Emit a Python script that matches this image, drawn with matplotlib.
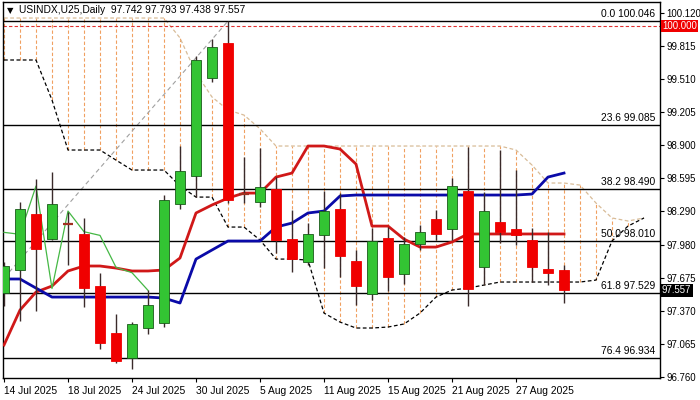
import numpy as np
import matplotlib
matplotlib.use("Agg")
import matplotlib.pyplot as plt
from matplotlib import transforms

plt.rcParams["font.family"] = ["Liberation Sans", "DejaVu Sans"]

# ── data (USINDX U25 daily, bar 0 = 14 Jul 2025) ─────────────────────────────
opens  = [97.532, 97.745, 98.262, 98.034, 98.180, 98.077, 97.597, 97.165, 96.929, 97.206,
          97.259, 98.352, 98.614, 99.516, 99.846, 98.450, 98.370, 98.491, 98.029, 97.821,
          98.065, 98.306, 97.828, 97.520, 98.038, 97.705, 97.982, 98.213, 98.121, 98.475,
          97.770, 98.191, 98.124, 98.022, 97.757, 97.742]
highs  = [97.819, 98.376, 98.583, 98.650, 98.284, 98.223, 97.714, 97.338, 97.267, 97.560,
          98.438, 98.891, 99.723, 99.877, 100.046, 98.790, 98.872, 98.607, 98.299, 98.182,
          98.478, 98.454, 97.930, 98.133, 98.145, 98.050, 98.161, 98.299, 98.600, 98.882,
          98.466, 98.854, 98.669, 98.133, 98.100, 97.793]
lows   = [97.412, 97.276, 97.369, 98.020, 97.791, 97.406, 97.012, 96.882, 96.827, 97.153,
          97.221, 98.306, 98.422, 99.482, 98.364, 98.360, 98.330, 97.899, 97.729, 97.791,
          97.763, 97.683, 97.421, 97.467, 97.555, 97.615, 97.930, 98.022, 98.022, 97.412,
          97.615, 97.994, 97.976, 97.637, 97.606, 97.438]
closes = [97.782, 98.306, 97.942, 98.355, 98.172, 97.576, 97.073, 96.907, 97.246, 97.421,
          98.392, 98.657, 99.686, 99.803, 98.392, 98.445, 98.515, 98.022, 97.851, 98.075,
          98.290, 97.877, 97.597, 98.017, 97.683, 97.982, 98.093, 98.075, 98.521, 97.574,
          98.290, 98.099, 98.065, 97.770, 97.720, 97.557]

tenkan = [97.052, 97.375, 97.541, 97.597, 97.736, 97.782, 97.782, 97.763, 97.736, 97.736,
          97.745, 97.856, 98.272, 98.346, 98.410, 98.456, 98.456, 98.604, 98.641, 98.891,
          98.891, 98.863, 98.724, 98.151, 98.151, 98.031, 97.957, 97.957, 98.004, 98.078,
          98.078, 98.078, 98.078, 98.078, 98.078, 98.078]
kijun  = [97.662, 97.662, 97.578, 97.495, 97.495, 97.495, 97.495, 97.495, 97.495, 97.495,
          97.486, 97.440, 97.846, 97.930, 98.013, 98.013, 98.013, 98.142, 98.179, 98.272,
          98.290, 98.429, 98.438, 98.438, 98.438, 98.438, 98.438, 98.438, 98.438, 98.438,
          98.438, 98.438, 98.438, 98.447, 98.604, 98.641]

# senkou spans, bars 0..40
span_a = [100.074, 100.074, 100.074, 100.074, 100.074, 100.074, 100.074, 100.074, 100.074, 100.074,
          100.074, 99.890, 99.565, 99.344, 99.224, 99.177, 99.050, 98.891, 98.891, 98.891,
          98.891, 98.891, 98.891, 98.891, 98.891, 98.891, 98.891, 98.891, 98.891, 98.891,
          98.891, 98.891, 98.854, 98.715, 98.549, 98.549, 98.530, 98.364, 98.226, 98.198,
          98.226]
span_b = [99.686, 99.686, 99.686, 99.316, 98.854, 98.854, 98.854, 98.761, 98.669, 98.669,
          98.669, 98.521, 98.419, 98.419, 98.142, 98.142, 98.022, 97.846, 97.846, 97.837,
          97.347, 97.264, 97.209, 97.209, 97.218, 97.246, 97.347, 97.495, 97.560, 97.578,
          97.606, 97.634, 97.634, 97.634, 97.634, 97.634, 97.634, 97.652, 98.013, 98.151,
          98.226]

fib_pts_x = [-10, 14]
fib_pts_p = [95.974, 100.046]
fib_ratio = ["0.0", "23.6", "38.2", "50.0", "61.8", "76.4"]
fib_price = [100.046, 99.085, 98.490, 98.010, 97.529, 96.934]

yticks = [100.120, 99.815, 99.510, 99.205, 98.900, 98.595, 98.290, 97.980,
          97.675, 97.370, 97.065, 96.760]
date_pos = [0, 4, 8, 12, 16, 20, 24, 28, 32]
date_lbl = ["14 Jul 2025", "18 Jul 2025", "24 Jul 2025", "30 Jul 2025", "5 Aug 2025",
            "11 Aug 2025", "15 Aug 2025", "21 Aug 2025", "27 Aug 2025"]
alert_price = 100.000

# ── colours ───────────────────────────────────────────────────────────────────
UP    = "#33c433"
DN    = "#f00000"
WICK  = "#3a2a2a"
KUMO  = "#f0a060"
SPANA = "#d8bc98"
TENK  = "#d01818"
KIJ   = "#0a0aa8"
CHIK  = "#45b845"
FS    = 7.4
FS_Y  = 6.9

fig = plt.figure(figsize=(7, 4), dpi=100, facecolor="white")
ax = fig.add_axes([3/700, 22/400, 657/700, 376/400])
ax.set_xlim(-0.0625, 41.0)
ax.set_ylim(96.747, 100.222)

# cloud
xs_span = np.arange(len(span_a))
ax.vlines(xs_span, span_b, span_a, colors=KUMO, linestyles=(0, (3, 2)), lw=0.8, zorder=1)
ax.plot(xs_span, span_a, color=SPANA, ls=(0, (3, 2)), lw=0.9, zorder=1.5)
ax.plot(xs_span, span_b, color="black", ls=(0, (3, 2)), lw=0.9, zorder=1.5)

# fibonacci
ax.plot(fib_pts_x, fib_pts_p, color="#a0a0a0", ls=(0, (4, 3)), lw=0.8, zorder=2)
trans = transforms.blended_transform_factory(ax.transAxes, ax.transData)
for r, p in zip(fib_ratio, fib_price):
    ax.axhline(p, color="black", lw=1.0, zorder=2)
    ax.text(0.993, p + 0.02, f"{r} {p:.3f}", transform=trans, ha="right", va="bottom",
            fontsize=FS, color="black", zorder=6)

# alert line
ax.axhline(alert_price, color="#e03030", ls=(0, (3, 2)), lw=0.8, zorder=2)

# ichimoku lines
n = len(closes)
xs = np.arange(n)
ax.plot(xs, tenkan, color=TENK, lw=2, zorder=3, solid_joinstyle="round")
ax.plot(xs, kijun, color=KIJ, lw=2, zorder=3, solid_joinstyle="round")
ax.plot(xs[:n - 26], closes[26:], color=CHIK, lw=0.9, zorder=3)

# candles
o = np.array(opens); h = np.array(highs); l = np.array(lows); c = np.array(closes)
up = c >= o
ax.vlines(xs, l, h, colors=WICK, lw=1, zorder=4)
body = np.abs(c - o)
doji = body < 0.02
ax.bar(xs[up & ~doji], (c - o)[up & ~doji], bottom=o[up & ~doji], width=0.66,
       color=UP, edgecolor="#1a5a1a", lw=0.6, zorder=5)
ax.bar(xs[~up & ~doji], (o - c)[~up & ~doji], bottom=c[~up & ~doji], width=0.66,
       color=DN, edgecolor=DN, lw=0.6, zorder=5)
ax.hlines(c[doji], xs[doji] - 0.33, xs[doji] + 0.33, colors="#a03020", lw=1.6, zorder=5)

# axes styling
for s in ax.spines.values():
    s.set_color("black")
    s.set_linewidth(1)
ax.yaxis.tick_right()
ax.set_yticks(yticks)
ax.set_yticklabels([f"{v:.3f}" for v in yticks])
ax.tick_params(axis="y", direction="out", length=3, width=0.8, pad=1.5, labelsize=FS_Y)
ax.set_xticks(date_pos)
ax.set_xticklabels(date_lbl)
ax.tick_params(axis="x", direction="out", length=3, width=0.8, pad=3, labelsize=FS)
for t in ax.get_xticklabels():
    t.set_ha("left")

# price tags on the scale
ax.text(1.003, alert_price, "100.000", transform=trans, ha="left", va="center", fontsize=FS_Y,
        color="white", clip_on=False, zorder=7,
        bbox=dict(boxstyle="square,pad=0.15", fc="#f00000", ec="none"))
ax.text(1.003, closes[-1], f"{closes[-1]:.3f}", transform=trans, ha="left", va="center",
        fontsize=FS_Y, color="white", clip_on=False, zorder=7,
        bbox=dict(boxstyle="square,pad=0.15", fc="black", ec="none"))

# header
ax.text(0.006, 0.978, "\u25BC", transform=ax.transAxes, fontsize=6, va="center", ha="left",
        family="DejaVu Sans", color="black", zorder=7)
ax.text(0.024, 0.978, "USINDX,U25,Daily  "
        f"{opens[-1]:.3f} {highs[-1]:.3f} {lows[-1]:.3f} {closes[-1]:.3f}",
        transform=ax.transAxes, fontsize=FS, va="center", ha="left", color="black", zorder=7,
        bbox=dict(boxstyle="square,pad=0.1", fc="white", ec="none"))

fig.savefig("out.png", dpi=100, facecolor="white")
